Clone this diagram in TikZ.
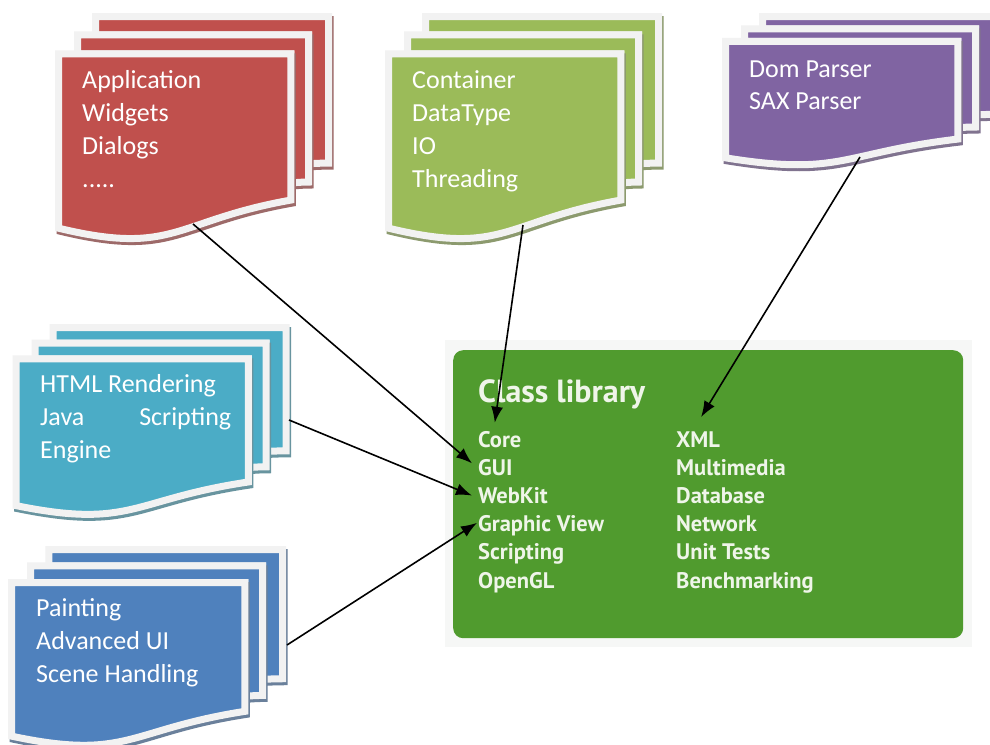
\documentclass[tikz,border=0pt]{standalone}
\usepackage{fontspec}
\setmainfont{Carlito}
\newfontfamily\boxfont{PT Sans}
\usetikzlibrary{arrows.meta,calc}
\definecolor{cred}{HTML}{C0504D}
\definecolor{cgreen}{HTML}{9BBB59}
\definecolor{cpurple}{HTML}{8064A2}
\definecolor{ccyan}{HTML}{4BACC6}
\definecolor{cblue}{HTML}{4F81BD}
\definecolor{bord}{HTML}{F2F2F2}
\definecolor{libgreen}{HTML}{509B2E}
\definecolor{libtext}{HTML}{EFF5E9}
\definecolor{libframe}{HTML}{F6F7F6}
\tikzset{
  docpg/.style={fill=#1, draw=bord, line width=7pt, line join=miter,
    preaction={draw=#1!45!gray, fill=#1!45!gray, line width=7pt,
      transform canvas={shift={(1.5pt,-3pt)}}}},
  pagetxt/.style={anchor=base west, inner sep=0pt, text=white,
    font=\fontsize{26}{33}\selectfont},
  libtitle/.style={anchor=base west, inner sep=0pt, text=libtext,
    font=\boxfont\bfseries\fontsize{32}{36}\selectfont},
  libitem/.style={anchor=base west, inner sep=0pt, text=libtext,
    font=\boxfont\bfseries\fontsize{22.5}{28}\selectfont},
  conn/.style={draw=black, line width=1.6pt, -{Latex[length=16pt,width=12pt]}},
}
\newcommand\mdoc[5]{%
  \begin{scope}[shift={(#1,#2)}, x=#3pt, y=-#4pt]
    \path[docpg=#5] (29.72,18.15) -- (29.72,0) -- (216,0) -- (216,143.92)
      .. controls (208,143.92) and (200,144.67) .. (200,144.67) -- (200,18.15) -- cycle;
    \path[docpg=#5] (15.32,36.75) -- (15.32,18.15) -- (200,18.15) -- (200,162.52)
      .. controls (192.98,162.52) and (185.95,163.52) .. (185.95,163.52) -- (185.95,36.75) -- cycle;
    \path[docpg=#5] (0,207.82) .. controls (92.98,235.42) and (92.98,200.42) .. (185.95,180.22)
      -- (185.95,36.75) -- (0,36.75) -- cycle;
  \end{scope}}
\begin{document}
\begin{tikzpicture}[x=1pt,y=-1pt]
\useasboundingbox (0,0) rectangle (990,744);
\fill[white] (0,0) rectangle (990,744);
% document stacks
\mdoc{58.5}{16.5}{1.25}{1.0185}{cred}
\mdoc{388.5}{16.5}{1.25}{1.0185}{cgreen}
\mdoc{725.5}{16.5}{1.25}{0.68}{cpurple}
\mdoc{16}{327.5}{1.25}{0.857}{ccyan}
\mdoc{11.5}{549.5}{1.255}{0.898}{cblue}
% page texts
\node[pagetxt] (r1) at (82,88) {Application};
\node[pagetxt] (r2) at (82,121) {Widgets};
\node[pagetxt] (r3) at (82,154) {Dialogs};
\node[pagetxt] (r4) at (82,187) {.....};
\node[pagetxt] (g1) at (412,88) {Container};
\node[pagetxt] (g2) at (412,121) {DataType};
\node[pagetxt] (g3) at (412,154) {IO};
\node[pagetxt] (g4) at (412,187) {Threading};
\node[pagetxt] (p1) at (749,77) {Dom Parser};
\node[pagetxt] (p2) at (749,109) {SAX Parser};
\node[pagetxt] (c1) at (40,392) {HTML Rendering};
\node[pagetxt] (c2) at (40,425) {\hbox to 191pt{Java\hfill Scripting}};
\node[pagetxt] (c3) at (40,458) {Engine};
\node[pagetxt] (b1) at (36,616) {Painting};
\node[pagetxt] (b2) at (36,649) {Advanced UI};
\node[pagetxt] (b3) at (36,682) {Scene Handling};
% class library
\fill[libframe] (445,340) rectangle (972,647);
\node[fill=libgreen, rounded corners=10pt, minimum width=510pt, minimum height=288pt,
  anchor=north west, inner sep=0pt] (lib) at (453,350) {};
\node[libtitle] (title) at (478,402) {Class library};
\node[libitem] (core) at (478,447) {Core};
\node[libitem] (gui) at (478,475.2) {GUI};
\node[libitem] (webkit) at (478,503.4) {WebKit};
\node[libitem] (graphic) at (478,531.6) {Graphic View};
\node[libitem] (scripting) at (478,559.8) {Scripting};
\node[libitem] (opengl) at (478,588) {OpenGL};
\node[libitem] (xml) at (676,447) {XML};
\node[libitem] (multimedia) at (676,475.2) {Multimedia};
\node[libitem] (database) at (676,503.4) {Database};
\node[libitem] (network) at (676,531.6) {Network};
\node[libitem] (unittests) at (676,559.8) {Unit Tests};
\node[libitem] (bench) at (676,588) {Benchmarking};
% connectors
\coordinate (rs) at (193,224);
\coordinate (gs) at (523,225);
\coordinate (ps) at (860,157);
\coordinate (cs) at (289,420);
\coordinate (bs) at (287,645);
\draw[conn] (rs) -- ($(gui.west)+(-6,-4)$);
\draw[conn] (gs) -- ($(core.north)+(-5,-8)$);
\draw[conn] (ps) -- ($(xml.north)+(3,-14)$);
\draw[conn] (cs) -- ($(webkit.west)+(-6,0)$);
\draw[conn] (bs) -- ($(graphic.west)+(-1,-3)$);
\end{tikzpicture}
\end{document}
